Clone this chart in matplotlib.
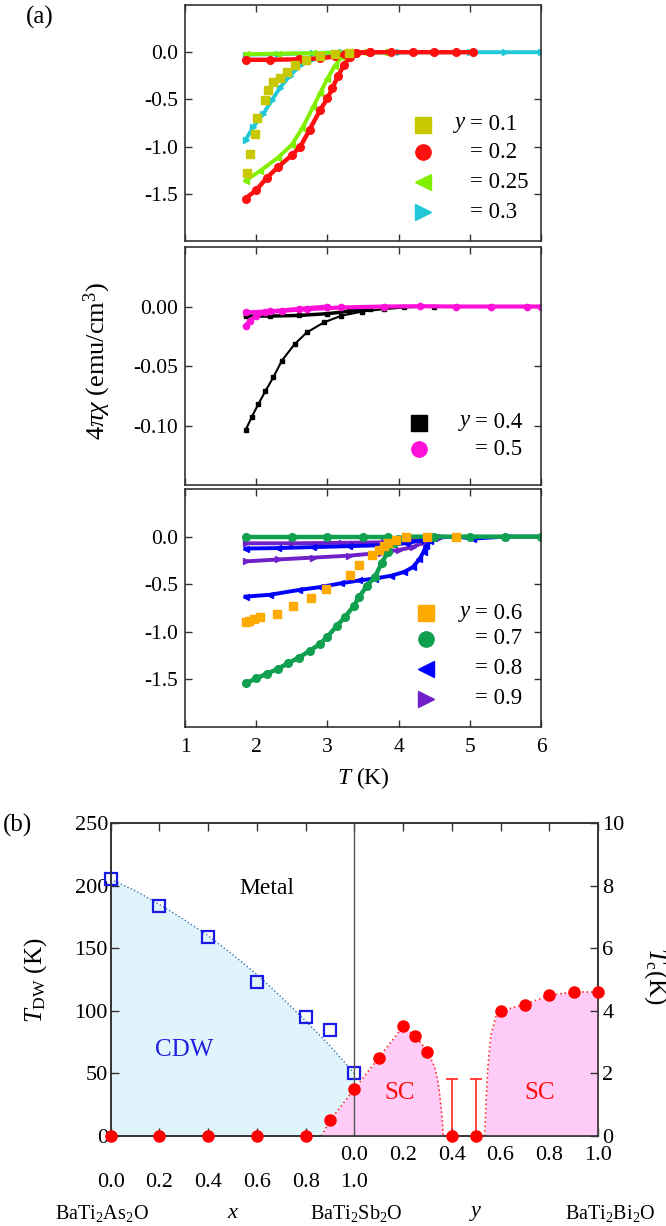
import matplotlib
matplotlib.use("Agg")
import matplotlib.pyplot as plt
import matplotlib.transforms as mtransforms

plt.rcParams['font.family'] = ['Liberation Serif', 'DejaVu Serif']
plt.rcParams['mathtext.fontset'] = 'custom'
plt.rcParams['mathtext.rm'] = 'Liberation Serif'
plt.rcParams['mathtext.it'] = 'Liberation Serif:italic'
plt.rcParams['axes.unicode_minus'] = False

# ---------------- panel (a) data: 4*pi*chi vs T ----------------
# y = 0.1
T_y01 = [1.87, 1.91, 1.98, 2.01, 2.12, 2.17, 2.24, 2.33, 2.43, 2.55, 2.70, 2.90, 3.10, 3.30]
chi_y01 = [-1.28, -1.08, -0.87, -0.70, -0.51, -0.40, -0.32, -0.27, -0.21, -0.14, -0.08, -0.04, -0.02, -0.01]
# y = 0.2
T_y02_zfc = [1.85, 2.0, 2.15, 2.3, 2.5, 2.62, 2.75, 2.9, 3.0, 3.07, 3.15, 3.23, 3.32, 3.4, 3.6, 3.9, 4.2, 4.5, 4.8, 5.05]
chi_y02_zfc = [-1.55, -1.46, -1.33, -1.22, -1.09, -1.0, -0.82, -0.61, -0.49, -0.38, -0.25, -0.14, -0.05, -0.01, 0, 0, 0, 0, 0, 0]
T_y02_fc = [1.85, 2.2, 2.6, 2.9, 3.1, 3.25, 3.4, 3.6]
chi_y02_fc = [-0.08, -0.08, -0.075, -0.065, -0.045, -0.02, -0.005, 0]
# y = 0.25
T_y025_zfc = [1.85, 2.05, 2.3, 2.5, 2.65, 2.8, 2.9, 3.0, 3.1, 3.2, 3.3, 3.5, 3.8]
chi_y025_zfc = [-1.36, -1.26, -1.12, -0.98, -0.80, -0.58, -0.43, -0.28, -0.15, -0.05, -0.01, 0, 0]
T_y025_fc = [1.85, 2.3, 2.8, 3.3, 3.8]
chi_y025_fc = [-0.02, -0.015, -0.01, 0, 0]
# y = 0.3
T_y03_zfc = [1.85, 1.96, 2.1, 2.22, 2.33, 2.47, 2.62, 2.8, 3.04, 3.3, 3.6, 4.0, 4.5, 5.0, 5.5, 6.0]
chi_y03_zfc = [-0.93, -0.79, -0.65, -0.51, -0.38, -0.25, -0.14, -0.07, -0.02, 0, 0, 0, 0, 0, 0, 0]
T_y03_fc = [1.85, 2.3, 2.8, 3.2]
chi_y03_fc = [-0.025, -0.02, -0.01, 0]
# y = 0.4
T_y04_zfc = [1.85, 1.94, 2.03, 2.13, 2.24, 2.36, 2.54, 2.71, 2.95, 3.19, 3.49, 3.79, 4.08, 4.5]
chi_y04_zfc = [-0.104, -0.0925, -0.082, -0.071, -0.0595, -0.0455, -0.0316, -0.0218, -0.0134, -0.0078, -0.0042, -0.0022, -0.0008, 0]
T_y04_fc = [1.85, 2.2, 2.6, 3.0, 3.3, 3.6]
chi_y04_fc = [-0.008, -0.008, -0.0075, -0.006, -0.004, -0.002]
# y = 0.5
T_y05_zfc = [1.85, 1.91, 2.0, 2.12, 2.36, 2.71, 3.19, 3.79, 4.3, 4.8, 5.3, 5.8, 6.0]
chi_y05_zfc = [-0.0162, -0.012, -0.0078, -0.005, -0.0036, -0.0022, -0.0008, 0, 0.0003, 0, 0, 0, 0]
T_y05_fc = [1.85, 2.2, 2.6, 3.0]
chi_y05_fc = [-0.005, -0.004, -0.002, 0]
# y = 0.6
T_y06 = [1.85, 1.90, 1.97, 2.06, 2.29, 2.51, 2.77, 2.98, 3.32, 3.44, 3.62, 3.73, 3.79, 3.85, 3.96, 4.1, 4.4, 4.8]
chi_y06 = [-0.90, -0.89, -0.87, -0.84, -0.81, -0.73, -0.64, -0.55, -0.40, -0.30, -0.19, -0.14, -0.10, -0.07, -0.035, 0, 0, 0]
# y = 0.7
T_y07_zfc = [1.85, 2.0, 2.15, 2.3, 2.45, 2.6, 2.75, 2.89, 3.0, 3.13, 3.25, 3.37, 3.45, 3.55, 3.67, 3.76, 3.85, 3.93, 3.99, 4.1, 4.5, 5.0, 5.5, 6.0]
chi_y07_zfc = [-1.54, -1.49, -1.44, -1.39, -1.33, -1.27, -1.20, -1.13, -1.05, -0.94, -0.84, -0.73, -0.63, -0.52, -0.42, -0.28, -0.16, -0.07, -0.02, 0, 0, 0, 0, 0]
T_y07_fc = [1.85, 2.5, 3.0, 3.5, 3.85]
chi_y07_fc = [-0.005, -0.005, -0.005, -0.005, -0.005]
# y = 0.8
T_y08_zfc = [1.85, 2.2, 2.6, 2.9, 3.19, 3.45, 3.67, 3.9, 4.08, 4.2, 4.29, 4.35, 4.38, 4.44, 4.5, 4.8, 5.05, 5.5, 6.0]
chi_y08_zfc = [-0.63, -0.61, -0.56, -0.53, -0.49, -0.46, -0.44, -0.41, -0.37, -0.32, -0.24, -0.16, -0.10, -0.05, -0.01, 0, -0.02, 0, 0]
T_y08_fc = [1.85, 2.3, 2.8, 3.3, 3.75, 4.1, 4.3, 4.45]
chi_y08_fc = [-0.125, -0.12, -0.11, -0.10, -0.09, -0.07, -0.04, 0]
# y = 0.9
T_y09_zfc = [1.85, 2.3, 2.8, 3.3, 3.75, 4.0, 4.2, 4.35, 4.45, 4.6]
chi_y09_zfc = [-0.26, -0.24, -0.22, -0.20, -0.17, -0.14, -0.11, -0.06, -0.01, 0]
T_y09_fc = [1.85, 2.5, 3.2, 3.8, 4.2, 4.4]
chi_y09_fc = [-0.07, -0.07, -0.065, -0.06, -0.04, 0]

legend_top = ["0.1", "0.2", "0.25", "0.3"]
legend_mid = ["0.4", "0.5"]
legend_bot = ["0.6", "0.7", "0.8", "0.9"]

# ---------------- panel (b) data: phase diagram ----------------
x_comp = [0.0, 0.2, 0.4, 0.6, 0.8, 0.9, 1.0]
T_DW = [205, 184, 159, 123, 95, 85, 50]
x_comp_tc = [0.0, 0.2, 0.4, 0.6, 0.8, 0.9]
Tc_x = [0, 0, 0, 0, 0, 0.5]
y_comp = [0.0, 0.1, 0.2, 0.25, 0.3, 0.4, 0.5, 0.6, 0.7, 0.8, 0.9, 1.0]
Tc_y = [1.5, 2.5, 3.5, 3.2, 2.7, 0, 0, 4.0, 4.2, 4.5, 4.6, 4.6]
y_limit = [0.4, 0.5]
Tc_limit = [1.82, 1.82]
# guide lines
x_cdw_guide = [0.0, 0.1, 0.2, 0.3, 0.4, 0.5, 0.6, 0.7, 0.8, 0.9, 1.0]
T_cdw_guide = [205, 196, 185, 173, 160, 145, 129, 111, 92, 72, 50]
pos_sc1_guide = [0.865, 0.9, 1.0, 1.1, 1.2, 1.25, 1.3, 1.33, 1.345, 1.355, 1.362, 1.365]
Tc_sc1_guide = [0, 0.5, 1.5, 2.5, 3.5, 3.2, 2.7, 2.2, 1.65, 1.0, 0.4, 0]
pos_sc2_guide = [1.535, 1.54, 1.548, 1.56, 1.58, 1.6, 1.7, 1.8, 1.9, 2.0]
Tc_sc2_guide = [0, 1.0, 2.2, 3.2, 3.8, 4.0, 4.2, 4.5, 4.6, 4.6]
tick_lab_x = ["0.0", "0.2", "0.4", "0.6", "0.8", "1.0"]
tick_lab_y = ["0.0", "0.2", "0.4", "0.6", "0.8", "1.0"]

# ---------------- figure ----------------
fig = plt.figure(figsize=(6.66, 12.26), dpi=100)
FRAME = '#333333'

def style_a(ax, yticks, ylabels, ylim, show_x):
    ax.set_xlim(1, 6)
    ax.set_ylim(*ylim)
    ax.set_xticks([1, 2, 3, 4, 5, 6])
    ax.set_yticks(yticks)
    ax.set_yticklabels(ylabels)
    ax.tick_params(direction='in', top=True, right=True, length=5, width=1,
                   labelsize=15.5, color=FRAME, pad=5)
    ax.tick_params(axis='x', pad=8)
    if not show_x:
        ax.tick_params(labelbottom=False)
    for s in ax.spines.values():
        s.set_linewidth(1.2)
        s.set_color(FRAME)

def dense(ax, T, chi, color, marker, ms=4.5, lw=2.8, z=2):
    ax.plot(T, chi, color=color, marker=marker, ms=ms, lw=lw, mec=color, zorder=z)

def sparse(ax, T, chi, color, marker, ms=5.5, z=3):
    ax.plot(T, chi, ls='none', color=color, marker=marker, ms=ms, mec=color, zorder=z)

def legend_rows(ax, x_m, x_eq, ys, labels, colors, markers):
    for i, (yy, lab, c, m) in enumerate(zip(ys, labels, colors, markers)):
        ax.plot([x_m], [yy], transform=ax.transAxes, ls='none', marker=m, ms=11,
                color=c, mec=c, clip_on=False, zorder=5)
        ax.text(x_eq, yy, "= " + lab, transform=ax.transAxes, fontsize=16.5,
                ha='left', va='center')
        if i == 0:
            ax.text(x_eq - 0.008, yy, "$y$", transform=ax.transAxes, fontsize=16.5,
                    ha='right', va='center')

C_OLIVE = '#c8c800'
C_RED = '#ff1010'
C_LIME = '#80f000'
C_CYAN = '#20c8d8'
C_BLACK = '#000000'
C_MAG = '#ff10d8'
C_ORANGE = '#ffaa00'
C_GREEN = '#10a050'
C_BLUE = '#0000ff'
C_PURPLE = '#7020c8'

# top panel
a1 = fig.add_axes([0.2778, 0.8034, 0.5345, 0.1925])
style_a(a1, [0, -0.5, -1.0, -1.5], ["0.0", "-0.5", "-1.0", "-1.5"], (-2.0, 0.5), False)
dense(a1, T_y03_zfc, chi_y03_zfc, C_CYAN, '>')
dense(a1, T_y03_fc, chi_y03_fc, C_CYAN, '>')
dense(a1, T_y025_zfc, chi_y025_zfc, C_LIME, '<')
dense(a1, T_y025_fc, chi_y025_fc, C_LIME, '<')
dense(a1, T_y02_zfc, chi_y02_zfc, C_RED, 'o', ms=5.5, lw=3.2)
dense(a1, T_y02_fc, chi_y02_fc, C_RED, 'o', ms=5.5, lw=3.2)
sparse(a1, T_y01, chi_y01, C_OLIVE, 's')
legend_rows(a1, 0.669, 0.80, [0.492, 0.377, 0.250, 0.123], legend_top,
            [C_OLIVE, C_RED, C_LIME, C_CYAN], ['s', 'o', '<', '>'])

# middle panel
a2 = fig.add_axes([0.2778, 0.6044, 0.5345, 0.1941])
style_a(a2, [0, -0.05, -0.10], ["0.00", "-0.05", "-0.10"], (-0.15, 0.05), False)
dense(a2, T_y04_zfc, chi_y04_zfc, C_BLACK, 's', ms=3.5, lw=1.5)
dense(a2, T_y04_fc, chi_y04_fc, C_BLACK, 's', ms=3.5, lw=2.5)
dense(a2, T_y05_zfc, chi_y05_zfc, C_MAG, 'o', ms=4.5, lw=3)
dense(a2, T_y05_fc, chi_y05_fc, C_MAG, 'o', ms=4.5, lw=3)
legend_rows(a2, 0.657, 0.814, [0.261, 0.151], legend_mid,
            [C_BLACK, C_MAG], ['s', 'o'])
fig.text(0.1456, 0.7055, r"$4\pi\chi$ (emu/cm$^{3}$)", rotation=90,
         fontsize=19, ha='center', va='center')

# bottom panel
a3 = fig.add_axes([0.2778, 0.4070, 0.5345, 0.1941])
style_a(a3, [0, -0.5, -1.0, -1.5], ["0.0", "-0.5", "-1.0", "-1.5"], (-2.0, 0.5), True)
dense(a3, T_y09_zfc, chi_y09_zfc, C_PURPLE, '>')
dense(a3, T_y09_fc, chi_y09_fc, C_PURPLE, '>')
dense(a3, T_y08_zfc, chi_y08_zfc, C_BLUE, '<')
dense(a3, T_y08_fc, chi_y08_fc, C_BLUE, '<')
dense(a3, T_y07_zfc, chi_y07_zfc, C_GREEN, 'o', ms=5.5, lw=3.2)
dense(a3, T_y07_fc, chi_y07_fc, C_GREEN, 'o', ms=5.5, lw=3.2)
sparse(a3, T_y06, chi_y06, C_ORANGE, 's')
legend_rows(a3, 0.676, 0.814, [0.479, 0.370, 0.244, 0.118], legend_bot,
            [C_ORANGE, C_GREEN, C_BLUE, C_PURPLE], ['s', 'o', '<', '>'])
a3.set_xlabel("$T$ (K)", fontsize=17, labelpad=6)

fig.text(0.060, 0.986, "(a)", fontsize=18, ha='center', va='center')
fig.text(0.027, 0.327, "(b)", fontsize=18, ha='center', va='center')

# ---------------- panel (b) ----------------
b = fig.add_axes([0.1662, 0.0734, 0.7317, 0.2553])
b2 = b.twinx()
b.set_xlim(0, 2)
b.set_ylim(0, 250)
b2.set_ylim(0, 10)
b.fill_between(x_cdw_guide, 0, T_cdw_guide, color='#e0f4fb', lw=0, zorder=0)
b.plot(x_cdw_guide, T_cdw_guide, ls=':', color='#4070b0', lw=1.0, zorder=1)
b.plot(x_comp, T_DW, ls='none', marker='s', ms=9, mfc='none', mec='#1a1ae6',
       mew=1.6, zorder=3, clip_on=False)

b2.fill_between(pos_sc1_guide, 0, Tc_sc1_guide, color='#ffccf7', lw=0, zorder=0)
b2.fill_between(pos_sc2_guide, 0, Tc_sc2_guide, color='#ffccf7', lw=0, zorder=0)
b2.plot(pos_sc1_guide, Tc_sc1_guide, ls=':', color='#ff3030', lw=1.2, zorder=1)
b2.plot(pos_sc2_guide, Tc_sc2_guide, ls=':', color='#ff3030', lw=1.2, zorder=1)
b2.axvline(1.0, color='#555555', lw=1.0, zorder=2)
y_pos = [1.0 + v for v in y_comp]
y_lim_pos = [1.0 + v for v in y_limit]
b2.errorbar(y_lim_pos, [0, 0], yerr=[[0, 0], Tc_limit], fmt='none',
            ecolor='#ff2020', elinewidth=1.2, capsize=4, capthick=1.2, zorder=3)
b2.plot(x_comp_tc, Tc_x, ls='none', marker='o', ms=8, color='#ff0000',
        mec='#ff0000', clip_on=False, zorder=4)
b2.plot(y_pos, Tc_y, ls='none', marker='o', ms=8, color='#ff0000',
        mec='#ff0000', clip_on=False, zorder=4)

b.set_yticks([0, 50, 100, 150, 200, 250])
b2.set_yticks([0, 2, 4, 6, 8, 10])
b.set_xticks([i * 0.2 for i in range(11)])
b.set_xticklabels([])
b.tick_params(direction='in', top=True, length=6, width=1, labelsize=16,
              pad=2, color=FRAME)
b2.tick_params(direction='in', length=6, width=1, labelsize=16, pad=3, color=FRAME)
for s in list(b.spines.values()) + list(b2.spines.values()):
    s.set_linewidth(1.2)
    s.set_color(FRAME)

trans = mtransforms.blended_transform_factory(b.transData, b.transAxes)
for i, lab in enumerate(tick_lab_x):
    b.text(0.2 * i, -0.147, lab, transform=trans, fontsize=16, ha='center', va='center')
for i, lab in enumerate(tick_lab_y):
    b.text(1.0 + 0.2 * i, -0.061, lab, transform=trans, fontsize=16, ha='center', va='center')
b.text(-0.035, -0.246, r"BaTi$_2$As$_2$O", transform=trans, fontsize=14.5, ha='center', va='center')
b.text(0.50, -0.246, "$x$", transform=trans, fontsize=16, ha='center', va='center')
b.text(1.01, -0.246, r"BaTi$_2$Sb$_2$O", transform=trans, fontsize=14.5, ha='center', va='center')
b.text(1.50, -0.246, "$y$", transform=trans, fontsize=16, ha='center', va='center')
b.text(2.05, -0.246, r"BaTi$_2$Bi$_2$O", transform=trans, fontsize=14.5, ha='center', va='center')

b.text(0.64, 198, "Metal", fontsize=17, ha='center', va='center', zorder=5)
b.text(0.30, 69, "CDW", fontsize=18, color='#2020e0', ha='center', va='center', zorder=5)
b2.text(1.186, 1.37, "SC", fontsize=18, color='#ff1010', ha='center', va='center', zorder=5)
b2.text(1.76, 1.37, "SC", fontsize=18, color='#ff1010', ha='center', va='center', zorder=5)

fig.text(0.054, 0.2007, r"$T_{\rm DW}$ (K)", rotation=90, fontsize=18, ha='center', va='center')
fig.text(0.9835, 0.204, r"$T_{\rm c}$(K)", rotation=-90, fontsize=18, ha='center', va='center')

fig.savefig("out.png", dpi=100)
